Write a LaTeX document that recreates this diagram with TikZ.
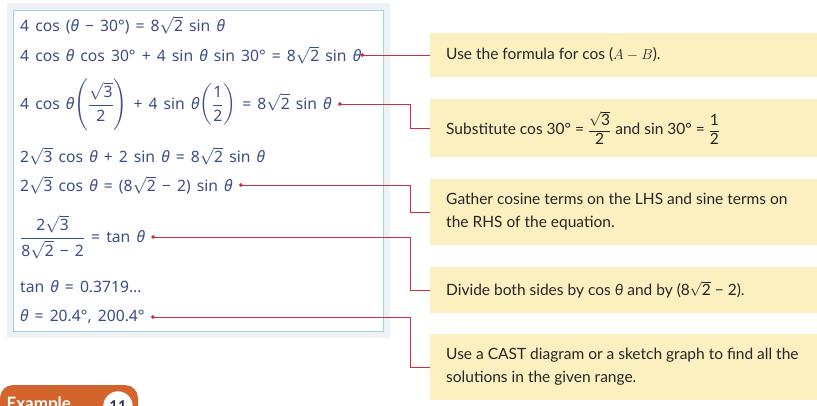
\documentclass[tikz,border=0pt]{standalone}
\usepackage{amsmath}
\usepackage{fontspec}
\setmainfont{Lato}
\newfontfamily\lf{Noto Sans}[Scale=0.95,WordSpace=1.5]
\definecolor{ink}{HTML}{3A4F86}
\definecolor{red1}{HTML}{C8303A}
\definecolor{note}{HTML}{FCEFC0}
\definecolor{panel}{HTML}{EEF2F4}
\definecolor{frame}{HTML}{9FD3E8}
\definecolor{orng}{HTML}{D2642C}
\newcommand{\tht}{\textit{θ}}
\newcommand{\tx}[1]{\text{\lf #1}}
\begin{document}
\begin{tikzpicture}[x=1pt,y=-1pt,
  eq/.style={anchor=west,text=ink,font=\lf\fontsize{16.5}{18}\selectfont,inner sep=0},
  nt/.style={anchor=west,fill=note,minimum width=387pt,text width=355pt,align=flush left,inner xsep=12pt,font=\fontsize{15.5}{23}\selectfont,text=black!85},
  con/.style={red1,line width=0.7pt},
  dot/.style={circle,fill=red1,inner sep=1.4pt}]
\useasboundingbox (0,0) rectangle (817,406);
\fill[panel] (7,3) rectangle (390,338);
\draw[frame,fill=white,line width=0.8pt] (13,10) rectangle (383,331);
\node[eq] (e1) at (20,25) {4 cos (\tht{} − 30°) = 8$\sqrt{\tx{2}}$ sin \tht};
\node[eq] (e2) at (20,55) {4 cos \tht{} cos 30° + 4 sin \tht{} sin 30° = 8$\sqrt{\tx{2}}$ sin \tht};
\node[eq] (e3) at (20,105) {4 cos \tht$\left(\dfrac{\sqrt{\tx{3}}}{\tx{2}}\right)$ + 4 sin \tht$\left(\dfrac{\tx{1}}{\tx{2}}\right)$ = 8$\sqrt{\tx{2}}$ sin \tht};
\node[eq] (e4) at (20,156) {2$\sqrt{\tx{3}}$ cos \tht{} + 2 sin \tht{} = 8$\sqrt{\tx{2}}$ sin \tht};
\node[eq] (e5) at (20,185) {2$\sqrt{\tx{3}}$ cos \tht{} = (8$\sqrt{\tx{2}}$ − 2) sin \tht};
\node[eq] (e6) at (20,237) {$\dfrac{\tx{2}\sqrt{\tx{3}}}{\tx{8}\sqrt{\tx{2}}\tx{ − 2}}$ = tan \tht};
\node[eq] (e7) at (20,287) {tan \tht{} = 0.3719...};
\node[eq] (e8) at (20,317) {\tht{} = 20.4°, 200.4°};
\node[nt,minimum height=44pt] (n1) at (430,55) {Use the formula for cos ($A-B$).};
\node[nt,minimum height=58pt] (n2) at (430,128) {Substitute cos 30° = $\dfrac{\sqrt{\text{3}}}{\text{2}}$ and sin 30° = $\dfrac{\text{1}}{\text{2}}$};
\node[nt,minimum height=66pt] (n3) at (430,212) {Gather cosine terms on the LHS and sine terms on the RHS of the equation.};
\node[nt,minimum height=46pt] (n4) at (430,290) {Divide both sides by cos \textit{θ} and by (8$\sqrt{\text{2}}$ − 2).};
\node[nt,minimum height=66pt] (n5) at (430,367) {Use a CAST diagram or a sketch graph to find all the solutions in the given range.};
\node[dot] (d1) at ([xshift=1pt]e2.east) {};
\node[dot] (d2) at ([xshift=8pt,yshift=1pt]e3.east) {};
\node[dot] (d3) at ([xshift=8pt]e5.east) {};
\node[dot] (d4) at ([xshift=8pt]e6.east) {};
\node[dot] (d5) at ([xshift=8pt]e8.east) {};
\draw[con] (d1.center) -- (n1.west);
\draw[con] (d2.center) -| (410,0|-n2.west) -- (n2.west);
\draw[con] (d3.center) -| (410,0|-n3.west) -- (n3.west);
\draw[con] (d4.center) -| (410,0|-n4.west) -- (n4.west);
\draw[con] (d5.center) -| (410,0|-n5.west) -- (n5.west);
\fill[orng,rounded corners=13pt] (0,385) rectangle (138,420);
\node[circle,fill=white,draw=orng,line width=2.5pt,minimum size=32pt,font=\bfseries\fontsize{15}{17}\selectfont,text=ink!70!black] (c11) at (118,406) {11};
\node[anchor=west,text=white,font=\bfseries\fontsize{17}{19}\selectfont] (ex) at (3,405) {Example};
\end{tikzpicture}
\end{document}
